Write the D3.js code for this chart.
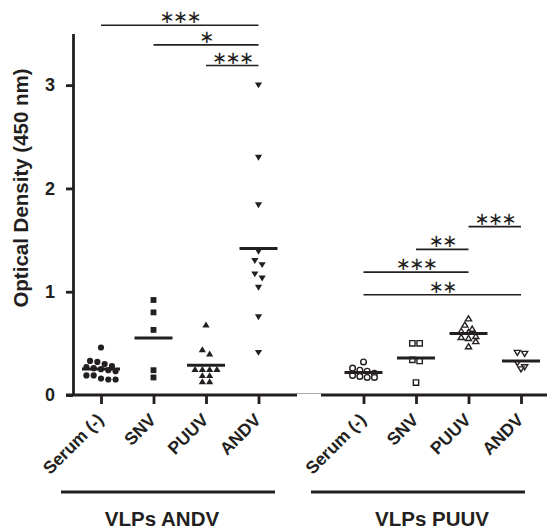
<!DOCTYPE html>
<html>
<head>
<meta charset="utf-8">
<script src="https://cdn.jsdelivr.net/npm/d3@7"></script>
<style>
body { margin: 0; background: #fff; }
text { font-family: "Liberation Sans", Arial, sans-serif; fill: #231f20; }
</style>
</head>
<body>
<script>
// data
var categories = ["Serum (-)", "SNV", "PUUV", "ANDV"];
var groups = ["VLPs ANDV", "VLPs PUUV"];
var yTicks = [0, 1, 2, 3];

// VLPs ANDV coated plate
var andvSerum = [0.46, 0.33, 0.32, 0.30, 0.28, 0.27, 0.26, 0.25, 0.24, 0.23, 0.19, 0.19, 0.16, 0.15, 0.15];
var andvSNV   = [0.92, 0.80, 0.63, 0.24, 0.17];
var andvPUUV  = [0.68, 0.44, 0.40, 0.25, 0.25, 0.25, 0.25, 0.19, 0.19, 0.13, 0.13];
var andvANDV  = [3.00, 2.30, 1.84, 1.39, 1.30, 1.26, 1.17, 1.13, 1.04, 0.755, 0.41];

// VLPs PUUV coated plate
var puuvSerum = [0.32, 0.26, 0.24, 0.23, 0.21, 0.19, 0.18, 0.17, 0.17];
var puuvSNV   = [0.50, 0.50, 0.34, 0.33, 0.12];
var puuvPUUV  = [0.74, 0.68, 0.64, 0.62, 0.61, 0.57, 0.56, 0.55, 0.52, 0.47];
var puuvANDV  = [0.41, 0.40, 0.31, 0.27, 0.25];

// significance brackets (slot index from / to, height in OD units)
var sigFrom  = [0, 1, 2, 7, 6, 5, 5];
var sigTo    = [3, 3, 3, 8, 7, 7, 8];
var sigLevel = [3.58, 3.39, 3.19, 1.63, 1.41, 1.19, 0.97];
var sigLabel = ["***", "*", "***", "***", "**", "***", "**"];

var width = 547, height = 529;
var ink = "#231f20";

var columns = [
  { values: andvSerum, slot: 0, shape: "circle",   open: false },
  { values: andvSNV,   slot: 1, shape: "square",   open: false },
  { values: andvPUUV,  slot: 2, shape: "triangle", open: false },
  { values: andvANDV,  slot: 3, shape: "triDown",  open: false },
  { values: puuvSerum, slot: 5, shape: "circle",   open: true },
  { values: puuvSNV,   slot: 6, shape: "square",   open: true },
  { values: puuvPUUV,  slot: 7, shape: "triangle", open: true },
  { values: puuvANDV,  slot: 8, shape: "triDown",  open: true }
];

var x = d3.scaleLinear().domain([0, 8]).range([101, 521]);
var y = d3.scaleLinear().domain([0, 3.5]).range([395, 33.5]);

var svg = d3.select("body").append("svg")
    .attr("width", width)
    .attr("height", height);

// y axis
var yaxis = d3.axisLeft(y).tickValues(yTicks).tickSize(7).tickSizeOuter(0).tickPadding(11)
    .tickFormat(d3.format("d"));
var gy = svg.append("g")
    .attr("transform", "translate(73,0)")
    .call(yaxis);
gy.select(".domain").attr("stroke", ink).attr("stroke-width", 2.8);
gy.selectAll(".tick line").attr("stroke", ink).attr("stroke-width", 2.8);
gy.selectAll(".tick text")
    .attr("font-family", "Liberation Sans, Arial, sans-serif")
    .style("font-size", "18px").style("font-weight", "bold").attr("fill", ink);

svg.append("text")
    .attr("transform", "translate(28,188) rotate(-90)")
    .attr("text-anchor", "middle")
    .style("font-size", "20.5px").style("font-weight", "bold")
    .text("Optical Density (450 nm)");

// x axis (broken between the two plates)
var xaxis = d3.axisBottom(x)
    .tickValues([0, 1, 2, 3, 5, 6, 7, 8])
    .tickSize(9)
    .tickFormat(function(d) { return categories[d % 5]; });
var gx = svg.append("g")
    .attr("transform", "translate(0,395)")
    .call(xaxis);
gx.select(".domain").remove();
gx.selectAll(".tick line").attr("stroke", ink).attr("stroke-width", 2.8);
gx.selectAll(".tick text")
    .attr("font-family", "Liberation Sans, Arial, sans-serif")
    .style("font-size", "17.5px").style("font-weight", "bold").attr("fill", ink)
    .attr("x", 0).attr("y", 0).attr("dy", 0)
    .attr("text-anchor", "end")
    .attr("transform", "translate(3,26) rotate(-45)");

svg.append("line").attr("x1", 66).attr("x2", 297).attr("y1", 395).attr("y2", 395)
    .attr("stroke", ink).attr("stroke-width", 2.8);
svg.append("line").attr("x1", 321).attr("x2", 547).attr("y1", 395).attr("y2", 395)
    .attr("stroke", ink).attr("stroke-width", 2.8);
svg.append("line").attr("x1", 297).attr("x2", 321).attr("y1", 393.5).attr("y2", 393.5)
    .attr("stroke", "#aaa").attr("stroke-width", 1);

// plate brackets and labels
var bracketX = [[61, 275], [311, 525]];
var labelX = [162, 432];
groups.forEach(function(g, i) {
  svg.append("line")
      .attr("x1", bracketX[i][0]).attr("x2", bracketX[i][1])
      .attr("y1", 492).attr("y2", 492)
      .attr("stroke", ink).attr("stroke-width", 3);
  svg.append("text")
      .attr("x", labelX[i]).attr("y", 526)
      .attr("text-anchor", "middle")
      .style("font-size", "20.5px").style("font-weight", "bold")
      .text(g);
});

// markers
function shapePath(shape, open) {
  var k = open ? 0.85 : 1;
  if (shape === "circle") return d3.symbol(d3.symbolCircle, 30 * k)();
  if (shape === "square") return d3.symbol(d3.symbolSquare, 34 * k)();
  var h = 3.2 * k, w = 3.6 * k;
  if (shape === "triangle") return "M0," + (-h) + "L" + w + "," + (h * 0.85) + "L" + (-w) + "," + (h * 0.85) + "Z";
  return "M0," + h + "L" + w + "," + (-h * 0.85) + "L" + (-w) + "," + (-h * 0.85) + "Z";
}

// GraphPad-like scatter: points of similar height are spread in a row
function layoutRows(vals) {
  var sorted = vals.slice().sort(d3.descending);
  var rows = [];
  sorted.forEach(function(v) {
    var r = rows[rows.length - 1];
    if (r && Math.abs(y(r[0]) - y(v)) < 5.5) r.push(v);
    else rows.push([v]);
  });
  var pts = [];
  rows.forEach(function(r) {
    r.forEach(function(v, j) { pts.push({ v: v, dx: (j - (r.length - 1) / 2) * 7.3 }); });
  });
  return pts;
}

columns.forEach(function(col) {
  var cx = x(col.slot);
  svg.append("g").selectAll("path")
      .data(layoutRows(col.values))
      .enter()
      .append("path")
      .attr("d", shapePath(col.shape, col.open))
      .attr("transform", function(d) { return "translate(" + (cx + d.dx) + "," + y(d.v) + ")"; })
      .attr("fill", col.open ? "#fff" : ink)
      .attr("stroke", col.open ? ink : "none")
      .attr("stroke-width", 1.4);

  // mean line
  var m = d3.mean(col.values);
  svg.append("line")
      .attr("x1", cx - 19).attr("x2", cx + 19)
      .attr("y1", y(m)).attr("y2", y(m))
      .attr("stroke", ink).attr("stroke-width", 3);
});

// significance brackets
sigFrom.forEach(function(f, i) {
  var x1 = x(f), x2 = x(sigTo[i]), yy = y(sigLevel[i]);
  svg.append("line")
      .attr("x1", x1).attr("x2", x2).attr("y1", yy).attr("y2", yy)
      .attr("stroke", ink).attr("stroke-width", 1.6);
  svg.append("text")
      .attr("x", (x1 + x2) / 2).attr("y", yy - 2)
      .attr("text-anchor", "middle")
      .style("font-family", "DejaVu Sans, sans-serif")
      .style("font-size", "18px")
      .style("letter-spacing", "-1.5px")
      .text(sigLabel[i].replace(/\*/g, "\u2217"));
});
</script>
</body>
</html>
